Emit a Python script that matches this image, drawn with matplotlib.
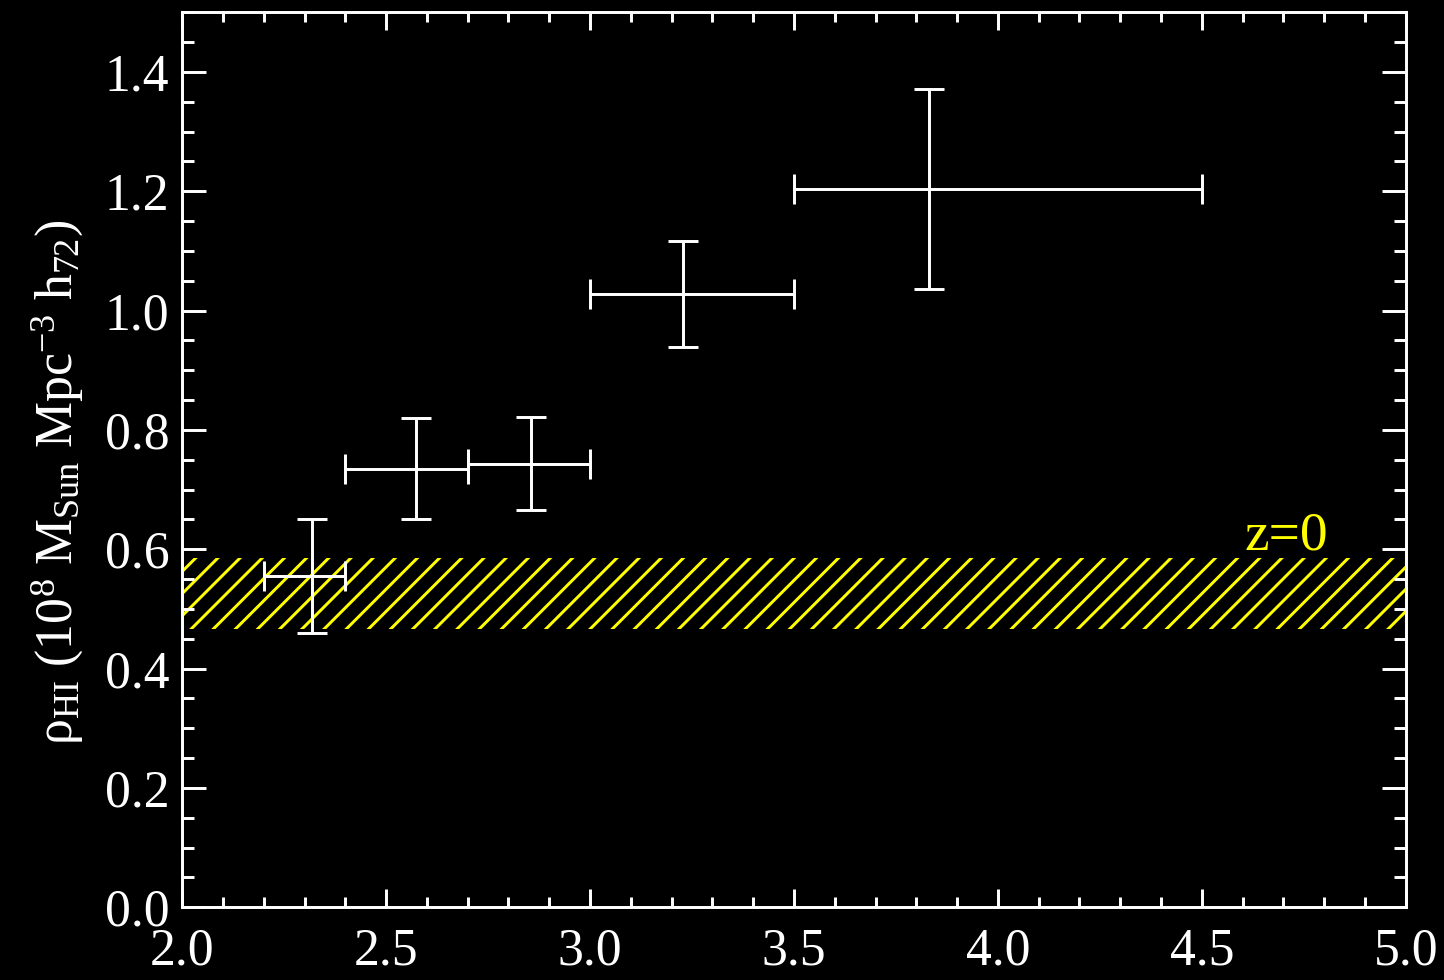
import matplotlib
matplotlib.use("Agg")
import matplotlib.pyplot as plt
from matplotlib.ticker import MultipleLocator, FormatStrFormatter
import numpy as np

# Redshift bins (centre and edges) and HI mass density with 1-sigma errors
z_mid = [2.317, 2.573, 2.854, 3.229, 3.830]
z_lo = [2.2, 2.4, 2.7, 3.0, 3.5]
z_hi = [2.4, 2.7, 3.0, 3.5, 4.5]
rho_hi = [0.555, 0.735, 0.7435, 1.028, 1.204]
rho_err = [0.096, 0.085, 0.0775, 0.089, 0.167]

# Local (z=0) value shown as a hatched band
rho_z0_low = 0.466
rho_z0_high = 0.585
z0_label = "z=0"

x_ticks = [2.0, 2.5, 3.0, 3.5, 4.0, 4.5, 5.0]
y_ticks = [0.0, 0.2, 0.4, 0.6, 0.8, 1.0, 1.2, 1.4]

DPI = 133
plt.rcParams["font.family"] = ["Liberation Serif", "DejaVu Serif"]
plt.rcParams["mathtext.fontset"] = "custom"
plt.rcParams["mathtext.rm"] = "Liberation Serif"
plt.rcParams["mathtext.it"] = "Liberation Serif:italic"
plt.rcParams["mathtext.bf"] = "Liberation Serif:bold"
plt.rcParams["hatch.linewidth"] = 1.6

fig = plt.figure(figsize=(1444 / DPI, 980 / DPI), dpi=DPI, facecolor="black")
ax = fig.add_axes([0.1262, 0.0742, 0.9735 - 0.1262, 0.9875 - 0.0742])
ax.set_facecolor("black")

ax.set_xlim(2.0, 5.0)
ax.set_ylim(0.0, 1.5)

# z=0 band
ax.axhspan(rho_z0_low, rho_z0_high, facecolor="none", edgecolor="#ffff00",
           hatch="//", linewidth=0, zorder=1)
ax.text(4.707, 0.599, z0_label, color="#ffff00", fontsize=30,
        ha="center", va="baseline", zorder=3)

# Data points with redshift-bin and density errors
z_mid_a = np.array(z_mid)
xerr = [z_mid_a - np.array(z_lo), np.array(z_hi) - z_mid_a]
ax.errorbar(z_mid, rho_hi, xerr=xerr, yerr=rho_err, fmt="none",
            ecolor="white", elinewidth=1.6, capsize=8, capthick=1.6, zorder=4)

# Axes styling
for sp in ax.spines.values():
    sp.set_color("white")
    sp.set_linewidth(1.6)

ax.xaxis.set_major_locator(MultipleLocator(0.5))
ax.xaxis.set_minor_locator(MultipleLocator(0.1))
ax.yaxis.set_major_locator(MultipleLocator(0.2))
ax.yaxis.set_minor_locator(MultipleLocator(0.05))
ax.set_xticks(x_ticks)
ax.set_yticks(y_ticks)
ax.xaxis.set_major_formatter(FormatStrFormatter("%.1f"))
ax.yaxis.set_major_formatter(FormatStrFormatter("%.1f"))

ax.tick_params(axis="both", which="both", direction="in", colors="white",
               top=True, right=True, width=1.6, labelsize=28)
ax.tick_params(axis="x", which="major", length=9.7, pad=11)
ax.tick_params(axis="x", which="minor", length=5.2)
ax.tick_params(axis="y", which="major", length=12.8, pad=7)
ax.tick_params(axis="y", which="minor", length=6.5)

fig.text(57 / 1444, 1 - 482 / 980,
         r"ρ$_{\mathrm{HI}}$ (10$^{8}$ M$_{\mathrm{Sun}}$ Mpc$^{-3}$ h$_{72}$)",
         rotation=90, ha="center", va="center", color="white", fontsize=28)

fig.savefig("out.png", dpi=DPI, facecolor="black")
